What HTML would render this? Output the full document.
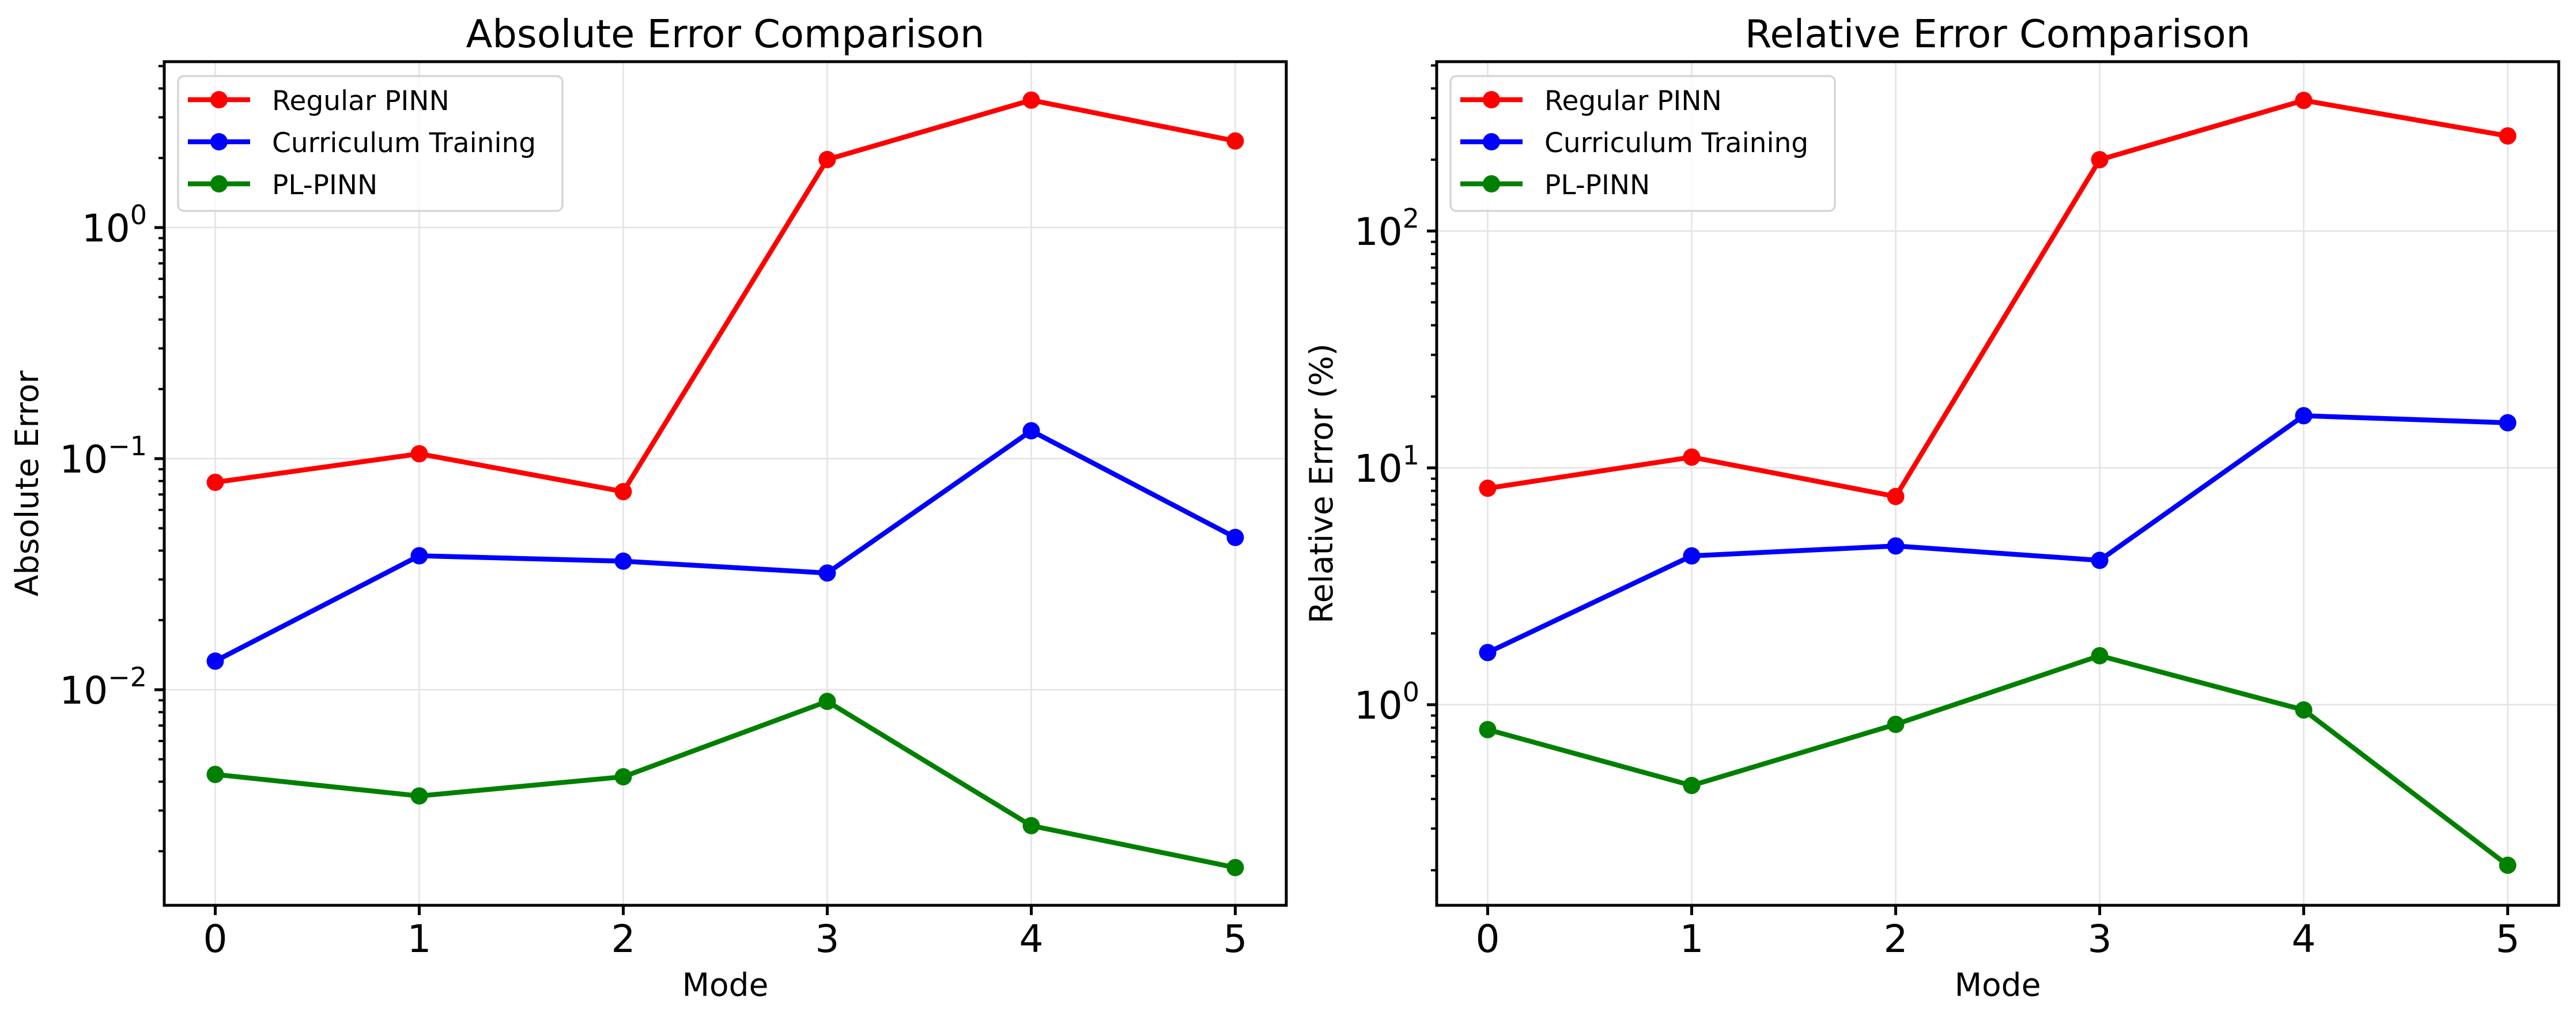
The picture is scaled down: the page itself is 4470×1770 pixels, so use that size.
<!DOCTYPE html>
<html><head><meta charset="utf-8"><style>
html,body{margin:0;padding:0;background:#fff;}
svg{display:block;font-family:"DejaVu Sans","Liberation Sans",sans-serif;}
</style></head><body>
<svg id="fig" xmlns="http://www.w3.org/2000/svg" width="4470" height="1770" viewBox="0 0 4470 1770"></svg>
<script>
const modes = [0,1,2,3,4,5];
const seriesNames = ["Regular PINN","Curriculum Training","PL-PINN"];
const seriesColors = ["#ff0000","#0000ff","#008000"];
const absRegular = [0.079,0.105,0.072,1.97,3.56,2.37];
const absCurriculum = [0.0133,0.038,0.036,0.032,0.132,0.0456];
const absPL = [0.0043,0.00347,0.0042,0.0089,0.00258,0.0017];
const relRegular = [8.2,11.1,7.57,200,356,252];
const relCurriculum = [1.66,4.25,4.68,4.07,16.6,15.5];
const relPL = [0.785,0.456,0.826,1.61,0.95,0.21];
const xTickLabels = ["0","1","2","3","4","5"];
const absYDecades = [-2,-1,0];
const relYDecades = [0,1,2];

const NS="http://www.w3.org/2000/svg";
const svg=document.getElementById('fig');
function mk(tag,attrs,parent){const e=document.createElementNS(NS,tag);for(const k in attrs)e.setAttribute(k,attrs[k]);(parent||svg).appendChild(e);return e;}

function panel(cfg){
  const g=mk('g',{});
  
  
  const L=cfg.left,R=cfg.left+1947,T=107,B=1571;
  const xs=v=>L+(v+0.25)/5.5*(R-L);
  const ys=v=>T+(cfg.ymax-Math.log10(v))/(cfg.ymax-cfg.ymin)*(B-T);
  modes.forEach(m=>{const l=mk('line',{x1:xs(m),x2:xs(m),y1:T,y2:B,stroke:'#e3e3e3','stroke-width':2.5},g);
    });
  cfg.decades.forEach(d=>{const l=mk('line',{x1:L,x2:R,y1:ys(Math.pow(10,d)),y2:ys(Math.pow(10,d)),stroke:'#e3e3e3','stroke-width':2.5},g);
    });
  for(let d=Math.floor(cfg.ymin);d<=Math.ceil(cfg.ymax);d++){
    for(let k=2;k<=9;k++){const lv=d+Math.log10(k);if(lv<cfg.ymin||lv>cfg.ymax)continue;
      const y=T+(cfg.ymax-lv)/(cfg.ymax-cfg.ymin)*(B-T);
      const t=mk('line',{x1:L-10,x2:L,y1:y,y2:y,stroke:'#000','stroke-width':4},g);
      }
  }
  cfg.decades.forEach(d=>{const y=ys(Math.pow(10,d));
    const t=mk('line',{x1:L-17,x2:L,y1:y,y2:y,stroke:'#000','stroke-width':5},g);
    
    const tx=mk('text',{x:L-30,y:y+24,'text-anchor':'end','font-size':66,fill:'#000'},g);
    
    const a=document.createElementNS(NS,'tspan');a.textContent='10';tx.appendChild(a);
    const s=document.createElementNS(NS,'tspan');s.setAttribute('font-size','46');s.setAttribute('dy','-30');
    s.textContent=(d<0?'\u2212':'')+Math.abs(d);tx.appendChild(s);
  });
  modes.forEach((m,i)=>{const t=mk('line',{x1:xs(m),x2:xs(m),y1:B,y2:B+17,stroke:'#000','stroke-width':5},g);
    
    const tx=mk('text',{x:xs(m),y:1652,'text-anchor':'middle','font-size':66,fill:'#000'},g);
    tx.textContent=xTickLabels[i];
    });
  cfg.series.forEach((vals,si)=>{
    const pts=modes.map((m,i)=>xs(m)+','+ys(vals[i])).join(' ');
    const pl=mk('polyline',{points:pts,fill:'none',stroke:seriesColors[si],'stroke-width':8.5,'stroke-linejoin':'round'},g);
    
    
    modes.forEach((m,i)=>{const c=mk('circle',{cx:xs(m),cy:ys(vals[i]),r:15,fill:seriesColors[si]},g);
      
      });
  });
  const sp=mk('rect',{x:L,y:T,width:R-L,height:B-T,fill:'none',stroke:'#000','stroke-width':5},g);
  
  const ti=mk('text',{x:(L+R)/2,y:82,'text-anchor':'middle','font-size':67,fill:'#000'},g);
  ti.textContent=cfg.title;
  const xl=mk('text',{x:(L+R)/2,y:1728,'text-anchor':'middle','font-size':55,fill:'#000'},g);
  xl.textContent='Mode';
  const yl=mk('text',{x:cfg.ylx,y:(T+B)/2,'text-anchor':'middle','font-size':55,fill:'#000',transform:'rotate(-90 '+cfg.ylx+' '+((T+B)/2)+')'},g);
  yl.textContent=cfg.ylabel;
  const lx=L+24;
  const lg=mk('g',{},g);
  mk('rect',{x:lx,y:132,width:667,height:234,rx:10,fill:'#fff','fill-opacity':0.8,stroke:'#d6d6d6','stroke-width':3.5},lg);
  seriesNames.forEach((n,i)=>{const yy=173+i*73;
    const e=mk('g',{},lg);
    mk('line',{x1:lx+17,x2:lx+125,y1:yy,y2:yy,stroke:seriesColors[i],'stroke-width':8.5},e);
    mk('circle',{cx:lx+71,cy:yy,r:15,fill:seriesColors[i]},e);
    const t=mk('text',{x:lx+163,y:yy+18,'font-size':47,fill:'#000'},e);t.textContent=n;
  });
}
panel({name:'absolute-error-panel',left:285,ymin:-2.933,ymax:0.718,decades:absYDecades,series:[absRegular,absCurriculum,absPL],title:'Absolute Error Comparison',ylabel:'Absolute Error',ylx:66});
panel({name:'relative-error-panel',left:2493,ymin:-0.847,ymax:2.715,decades:relYDecades,series:[relRegular,relCurriculum,relPL],title:'Relative Error Comparison',ylabel:'Relative Error (%)',ylx:2312});
</script>
</body></html>
